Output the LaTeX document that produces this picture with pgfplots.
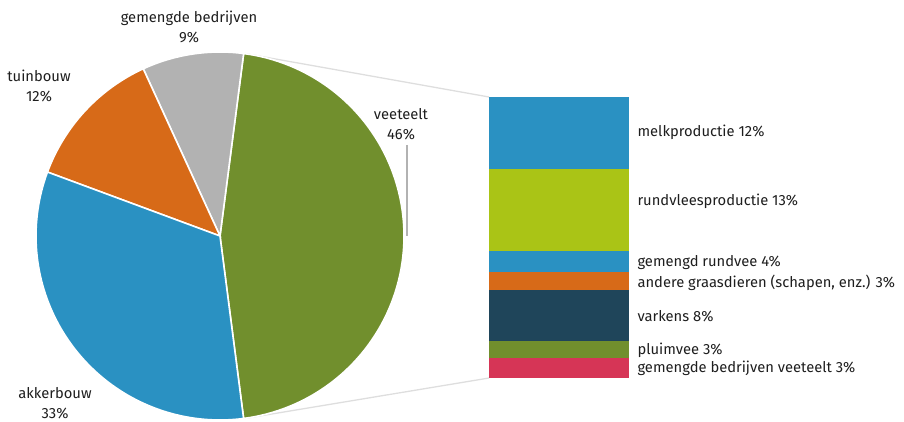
\documentclass[border=0pt]{standalone}
\usepackage{pgfplots}
\pgfplotsset{compat=1.18}
\usepackage{fontspec}
\setmainfont{Fira Sans}
\definecolor{cblue}{RGB}{42,145,194}
\definecolor{cgreen}{RGB}{113,143,45}
\definecolor{corange}{RGB}{215,106,24}
\definecolor{cgrey}{RGB}{178,178,178}
\definecolor{clime}{RGB}{170,196,22}
\definecolor{cnavy}{RGB}{31,69,90}
\definecolor{cpink}{RGB}{214,53,86}
\definecolor{clineg}{RGB}{222,222,222}
\definecolor{ctext}{RGB}{30,30,30}
% pie shares (%)
\def\pV{45.9}\def\pG{8.9}\def\pT{12.5}\def\pA{32.7}
\begin{document}
\begin{tikzpicture}[x=1bp,y=1bp]
\pgfmathsetmacro{\aA}{-\pV*1.8}
\pgfmathsetmacro{\aB}{\pV*1.8}
\pgfmathsetmacro{\aC}{\aB+\pG*3.6}
\pgfmathsetmacro{\aD}{\aC+\pT*3.6}
\pgfmathsetmacro{\aE}{\aD+\pA*3.6}
\begin{axis}[at={(0,0)}, anchor=south west, width=904bp, height=421bp, scale only axis,
  xmin=0, xmax=904, ymin=0, ymax=421, axis lines=none, clip=false,
  font=\fontsize{14.8}{20}\selectfont\color{ctext}]
\addplot[draw=clineg, line width=1.3bp] coordinates {(244.6,367.5) (489,324)};
\addplot[draw=clineg, line width=1.3bp] coordinates {(244.6,2.5) (489,43)};
\addplot[fill=cgreen, draw=white, line width=1.6bp, domain=\aA:\aB, samples=90, variable=\t]
  ({220+184*cos(\t)},{185+184*sin(\t)}) -- (axis cs:220,185) -- cycle;
\addplot[fill=cgrey, draw=white, line width=1.6bp, domain=\aB:\aC, samples=30, variable=\t]
  ({220+184*cos(\t)},{185+184*sin(\t)}) -- (axis cs:220,185) -- cycle;
\addplot[fill=corange, draw=white, line width=1.6bp, domain=\aC:\aD, samples=40, variable=\t]
  ({220+184*cos(\t)},{185+184*sin(\t)}) -- (axis cs:220,185) -- cycle;
\addplot[fill=cblue, draw=white, line width=1.6bp, domain=\aD:\aE, samples=80, variable=\t]
  ({220+184*cos(\t)},{185+184*sin(\t)}) -- (axis cs:220,185) -- cycle;
\addplot[draw=cgrey, line width=1.5bp] coordinates {(407,276) (407,185)};
\node[align=center] at (axis cs:189,394) {gemengde bedrijven\\9\%};
\node[align=center] at (axis cs:39,335) {tuinbouw\\12\%};
\node[align=center] at (axis cs:401,297) {veeteelt\\46\%};
\node[align=center] at (axis cs:55,18) {akkerbouw\\33\%};
\node[anchor=west] at (axis cs:634,289) {melkproductie 12\%};
\node[anchor=west] at (axis cs:634,220) {rundvleesproductie 13\%};
\node[anchor=west] at (axis cs:634,158) {gemengd rundvee 4\%};
\node[anchor=west] at (axis cs:634,138) {andere graasdieren (schapen, enz.) 3\%};
\node[anchor=west] at (axis cs:634,105) {varkens 8\%};
\node[anchor=west] at (axis cs:634,71) {pluimvee 3\%};
\node[anchor=west] at (axis cs:634,53) {gemengde bedrijven veeteelt 3\%};
\end{axis}
\begin{axis}[at={(489bp,43bp)}, anchor=south west, width=140bp, height=281bp, scale only axis,
  xmin=0, xmax=1, ymin=0, ymax=45.9, axis lines=none, ybar stacked, bar width=140bp, clip=false]
\addplot[fill=cpink, draw=none] coordinates {(0.5,3.3)};
\addplot[fill=cgreen, draw=none] coordinates {(0.5,2.8)};
\addplot[fill=cnavy, draw=none] coordinates {(0.5,8.3)};
\addplot[fill=corange, draw=none] coordinates {(0.5,2.9)};
\addplot[fill=cblue, draw=none] coordinates {(0.5,3.4)};
\addplot[fill=clime, draw=none] coordinates {(0.5,13.4)};
\addplot[fill=cblue, draw=none] coordinates {(0.5,11.8)};
\end{axis}
\pgfresetboundingbox
\useasboundingbox (0,0) rectangle (904,421);
\end{tikzpicture}
\end{document}
